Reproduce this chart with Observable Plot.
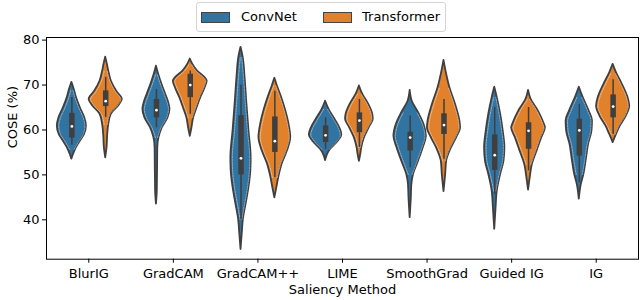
<!DOCTYPE html>
<html>
<head>
<meta charset="utf-8">
<script src="https://cdn.jsdelivr.net/npm/d3@7"></script>
<script src="https://cdn.jsdelivr.net/npm/@observablehq/plot@0.6"></script>
<style>
  body { margin: 0; background: #fff; font-family: "DejaVu Sans", sans-serif; }
  #wrap { width: 640px; }
  #legend { position: relative; height: 33px; }
  #legend .box { position: absolute; left: 196px; top: 2px; width: 250px; height: 30px; box-sizing: border-box;
    border: 1px solid #d4d4d4; border-radius: 3px; background: #fff; }
  #legend .patch { position: absolute; top: 9px; width: 27px; height: 9px; border: 1px solid #444; }
  #legend .lab { position: absolute; top: 6px; font-size: 13px; line-height: 16px; color: #000; }
</style>
</head>
<body>
<div id="wrap">
  <div id="legend"></div>
  <div id="chart"></div>
</div>
<script>
// ---- data ----
const methods = ["BlurIG", "GradCAM", "GradCAM++", "LIME", "SmoothGrad", "Guided IG", "IG"];
const groups = ["ConvNet", "Transformer"];
const yTicks = [40, 50, 60, 70, 80];

// violin outlines: [COSE value, relative density width]
const convProfiles = [
  [[70.6,0],[69.0,0.14],[67.2,0.27],[64.9,0.5],[62.7,0.76],[60.9,0.86],[59.0,0.75],[57.2,0.45],[55.7,0.22],[54.6,0.1],[53.5,0]],
  [[74.2,0],[72.4,0.13],[70.1,0.33],[67.9,0.55],[65.7,0.75],[64.6,0.8],[62.7,0.68],[60.5,0.35],[58.3,0.15],[56.1,0.08],[52.4,0.07],[49.4,0.06],[46.4,0.05],[43.5,0]],
  [[78.4,0],[76.1,0.13],[71.6,0.24],[65.7,0.35],[59.8,0.47],[53.8,0.6],[50.9,0.58],[47.2,0.47],[43.5,0.3],[40.1,0.14],[36.8,0.07],[33.4,0]],
  [[66.4,0],[64.6,0.2],[62.4,0.55],[60.1,0.88],[58.9,0.96],[57.5,0.75],[55.7,0.3],[54.6,0.12],[53.2,0]],
  [[68.8,0],[66.4,0.12],[63.8,0.5],[61.2,0.82],[58.6,0.96],[56.1,0.78],[53.1,0.5],[50.1,0.2],[47.9,0.1],[45.0,0.07],[40.5,0]],
  [[69.5,0],[67.2,0.15],[63.5,0.35],[59.8,0.5],[56.1,0.6],[53.1,0.55],[50.1,0.35],[46.4,0.15],[42.7,0.08],[37.9,0]],
  [[69.5,0],[67.2,0.23],[64.2,0.58],[62.0,0.78],[59.8,0.75],[56.8,0.55],[53.8,0.43],[50.1,0.27],[47.9,0.12],[44.6,0]]
];
const transProfiles = [
  [[76.2,0],[74.6,0.1],[73.1,0.18],[70.9,0.33],[68.6,0.65],[66.8,0.98],[65.3,0.75],[63.5,0.33],[61.2,0.18],[59.0,0.12],[56.1,0.08],[53.8,0]],
  [[75.8,0],[74.6,0.15],[73.1,0.43],[71.6,0.88],[70.9,1.0],[69.4,0.88],[67.2,0.62],[64.9,0.4],[62.7,0.2],[60.5,0.1],[58.6,0]],
  [[71.5,0],[69.8,0.15],[67.2,0.4],[64.6,0.62],[61.6,0.82],[58.3,0.94],[55.3,0.74],[52.4,0.43],[49.4,0.23],[47.2,0.12],[44.9,0]],
  [[69.8,0],[67.9,0.2],[65.7,0.55],[63.6,0.78],[62.4,0.82],[60.5,0.58],[58.3,0.3],[56.1,0.14],[54.6,0.08],[53.0,0]],
  [[75.5,0],[73.1,0.12],[69.4,0.35],[65.7,0.68],[62.0,0.94],[60.5,0.98],[58.3,0.75],[55.7,0.4],[53.1,0.16],[50.1,0.1],[46.3,0]],
  [[68.8,0],[66.8,0.15],[64.2,0.58],[61.2,0.94],[60.5,1.0],[58.3,0.78],[55.3,0.5],[52.4,0.23],[49.4,0.1],[46.6,0]],
  [[74.6,0],[72.7,0.2],[70.1,0.55],[67.2,0.88],[65.3,0.98],[63.1,0.78],[60.9,0.43],[59.0,0.2],[57.2,0]]
];

// inner box statistics
const convWhiskerLow  = [56.6, 60.5, 40.0, 55.7, 51.6, 45.7, 48.3];
const convQ1          = [58.2, 62.7, 50.0, 57.2, 55.3, 51.0, 54.2];
const convMedian      = [60.8, 64.4, 53.7, 58.8, 58.3, 54.4, 59.9];
const convQ3          = [63.7, 66.8, 63.2, 60.9, 59.5, 58.9, 62.4];
const convWhiskerHigh = [67.2, 69.0, 70.0, 62.7, 63.1, 65.0, 65.7];

const transWhiskerLow  = [62.8, 63.5, 49.4, 56.1, 53.5, 50.9, 59.0];
const transQ1          = [65.2, 67.2, 55.0, 59.4, 59.0, 55.7, 62.7];
const transMedian      = [66.4, 70.0, 57.5, 62.1, 61.1, 59.8, 65.2];
const transQ3          = [68.7, 72.4, 62.9, 63.8, 63.6, 61.6, 67.8];
const transWhiskerHigh = [71.7, 73.1, 68.6, 66.8, 66.8, 65.0, 71.2];

// ---- styling ----
const colors = ["#3274a1", "#e1812c"];
const edge = "#3f3f3f";
const dodge = {ConvNet: -0.2, Transformer: 0.2};
const halfWidth = 0.2;
const inset = 0.017;

// ---- build tables ----
const outline = [];
const boxes = [];
methods.forEach((m, i) => {
  [["ConvNet", convProfiles[i]], ["Transformer", transProfiles[i]]].forEach(([g, prof]) => {
    prof.slice().sort((a, b) => a[0] - b[0]).forEach(([v, w]) =>
      outline.push({key: m + "|" + g, method: m, i, group: g, value: v, w}));
  });
  boxes.push({i, group: "ConvNet", lo: convWhiskerLow[i], q1: convQ1[i], med: convMedian[i], q3: convQ3[i], hi: convWhiskerHigh[i]});
  boxes.push({i, group: "Transformer", lo: transWhiskerLow[i], q1: transQ1[i], med: transMedian[i], q3: transQ3[i], hi: transWhiskerHigh[i]});
});
const cx = d => d.i + dodge[d.group];
const inner = outline.filter(d => d.w > 0.12);

const chart = Plot.plot({
  width: 640,
  height: 267,
  marginTop: 4,
  marginBottom: 41.3,
  marginLeft: 46,
  marginRight: 2,
  style: {fontFamily: "DejaVu Sans, sans-serif", fontSize: "13px", color: "#000", background: "#fff"},
  x: {domain: [-0.5, 6.5], axis: null},
  y: {domain: [31.24, 80.58], axis: null},
  color: {domain: groups, range: colors},
  marks: [
    Plot.areaX(outline, {
      y: "value",
      x1: d => cx(d) - halfWidth * d.w,
      x2: d => cx(d) + halfWidth * d.w,
      z: "key",
      fill: "group",
      stroke: edge,
      strokeWidth: 1.8,
      curve: "monotone-y"
    }),
    Plot.lineY(inner, {y: "value", x: d => cx(d) - halfWidth * d.w + inset, z: "key", curve: "monotone-y",
      stroke: "#fff", strokeWidth: 0.6, strokeDasharray: "1.5,1.2", strokeOpacity: 0.75}),
    Plot.lineY(inner, {y: "value", x: d => cx(d) + halfWidth * d.w - inset, z: "key", curve: "monotone-y",
      stroke: "#fff", strokeWidth: 0.6, strokeDasharray: "1.5,1.2", strokeOpacity: 0.75}),
    Plot.ruleX(boxes, {x: cx, y1: "lo", y2: "hi", stroke: edge, strokeWidth: 1.5}),
    Plot.ruleX(boxes, {x: cx, y1: "q1", y2: "q3", stroke: edge, strokeWidth: 5.5}),
    Plot.dot(boxes, {x: cx, y: "med", r: 1.4, fill: "white", stroke: null}),
    Plot.frame({stroke: "#000", strokeWidth: 1}),
    Plot.axisX(d3.range(methods.length), {tickFormat: i => methods[i], tickSize: 4, tickPadding: 6, label: null, stroke: "#000", fontSize: 13}),
    Plot.axisY(yTicks, {tickSize: 4, tickPadding: 3, label: null, stroke: "#000", fontSize: 13}),
    Plot.text(["Saliency Method"], {text: d => d, frameAnchor: "bottom", dy: 35, fontSize: 13}),
    Plot.text(["COSE (%)"], {text: d => d, frameAnchor: "left", dx: -34, rotate: -90, fontSize: 13})
  ]
});
document.getElementById("chart").appendChild(chart);

// legend
const legend = document.getElementById("legend");
const box = document.createElement("div");
box.className = "box";
const legendX = [[4, 44], [126, 165]];
groups.forEach((g, k) => {
  const p = document.createElement("div");
  p.className = "patch";
  p.style.left = legendX[k][0] + "px";
  p.style.background = colors[k];
  const t = document.createElement("div");
  t.className = "lab";
  t.style.left = legendX[k][1] + "px";
  t.textContent = g;
  box.appendChild(p);
  box.appendChild(t);
});
legend.appendChild(box);
</script>
</body>
</html>
